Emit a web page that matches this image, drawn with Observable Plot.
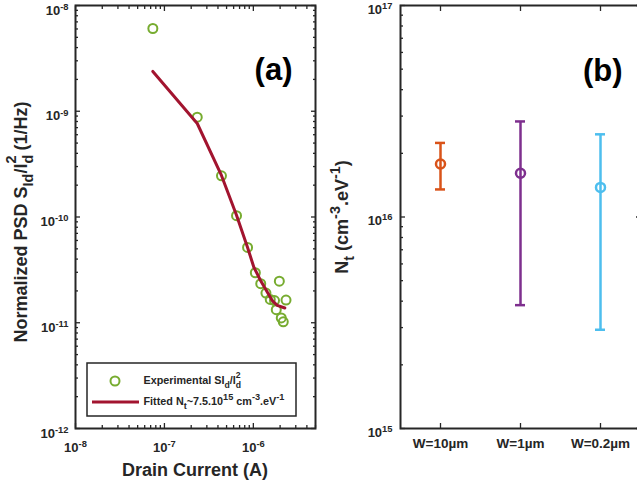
<!DOCTYPE html>
<html><head><meta charset="utf-8">
<script src="https://cdn.jsdelivr.net/npm/d3@7"></script>
<script src="https://cdn.jsdelivr.net/npm/@observablehq/plot@0.6"></script>
<style>
body{margin:0;background:#fff;}
#fig{position:relative;width:637px;height:484px;overflow:hidden;background:#fff;}
#fig svg{position:absolute;top:0;max-width:none !important;}
</style></head><body><div id="fig"></div>
<script>
// ---------- Panel (a) data ----------
const currentA = [7.41e-8, 2.34e-7, 4.38e-7, 6.47e-7, 8.61e-7, 1.053e-6, 1.211e-6, 1.386e-6, 1.549e-6, 1.73e-6, 1.96e-6, 2.33e-6, 1.81e-6, 2.06e-6, 2.17e-6];
const psdA = [6.06e-9, 8.78e-10, 2.45e-10, 1.03e-10, 5.15e-11, 2.97e-11, 2.34e-11, 1.91e-11, 1.66e-11, 1.62e-11, 2.47e-11, 1.64e-11, 1.33e-11, 1.11e-11, 1.02e-11];
const fitCurrent = [7.41e-8, 2.34e-7, 4.38e-7, 6.47e-7, 8.61e-7, 1.013e-6, 1.205e-6, 1.433e-6, 1.632e-6, 1.857e-6, 2.26e-6];
const fitPsd = [2.38e-9, 7.66e-10, 2.47e-10, 1.04e-10, 5.15e-11, 3.35e-11, 2.51e-11, 1.95e-11, 1.62e-11, 1.46e-11, 1.38e-11];
// ---------- Panel (b) data ----------
const widths = ["W=10µm", "W=1µm", "W=0.2µm"];
const ntMean = [1.78e16, 1.61e16, 1.38e16];
const ntHigh = [2.24e16, 2.83e16, 2.46e16];
const ntLow = [1.35e16, 3.83e15, 2.93e15];
const ntColors = ["#D95319", "#7E2F8E", "#4DBEEE"];
// ---------- Ticks ----------
const xMajorA = [1e-8, 1e-7, 1e-6];
const yMajorA = [1e-12, 1e-11, 1e-10, 1e-9, 1e-8];
const yMajorB = [1e15, 1e16, 1e17];
const mant = [2, 3, 4, 5, 6, 7, 8, 9];
const xMinorA = [1e-8, 1e-7, 1e-6].flatMap(d => mant.map(m => m * d)).filter(v => v < 5e-6);
const yMinorA = [1e-12, 1e-11, 1e-10, 1e-9].flatMap(d => mant.map(m => m * d));
const yMinorB = [1e15, 1e16].flatMap(d => mant.map(m => m * d));

const ink = "#262626";
const green = "#77AC30";
const red = "#A2142F";
const FONT = "'Liberation Sans', Arial, Helvetica, sans-serif";
const svgStyle = `font-family:${FONT};font-size:13px;font-weight:bold;color:${ink};background:transparent;overflow:visible;`;
const sup = d => "10^" + Math.round(Math.log10(d));
const blank = () => "";

const expData = currentA.map((c, i) => ({current: c, psd: psdA[i]}));
const fitData = fitCurrent.map((c, i) => ({current: c, psd: fitPsd[i]}));
const ntData = widths.map((w, i) => ({w, mean: ntMean[i], hi: ntHigh[i], lo: ntLow[i], color: ntColors[i]}));

function tickAxes(axis, anchor, ticks, size) {
  return axis({anchor, ticks, tickSize: -size, tickFormat: blank, strokeWidth: 1.3});
}

const plotA = Plot.plot({
  width: 320, height: 484,
  marginLeft: 75, marginRight: 5, marginTop: 5, marginBottom: 56,
  style: svgStyle,
  x: {type: "log", domain: [1e-8, 5e-6], label: null},
  y: {type: "log", domain: [1e-12, 1e-8], label: null},
  marks: [
    Plot.axisX({anchor: "bottom", ticks: xMajorA, tickSize: 0, tickPadding: 14, tickFormat: sup}),
    tickAxes(Plot.axisX, "bottom", xMajorA, 5),
    tickAxes(Plot.axisX, "bottom", xMinorA, 3),
    tickAxes(Plot.axisX, "top", xMajorA, 5),
    tickAxes(Plot.axisX, "top", xMinorA, 3),
    Plot.axisY({anchor: "left", ticks: yMajorA, tickSize: 0, tickPadding: 7, dy: 5, tickFormat: sup}),
    tickAxes(Plot.axisY, "left", yMajorA, 5),
    tickAxes(Plot.axisY, "left", yMinorA, 3),
    tickAxes(Plot.axisY, "right", yMajorA, 5),
    tickAxes(Plot.axisY, "right", yMinorA, 3),
    Plot.dot(expData, {x: "current", y: "psd", r: 4.5, stroke: green, strokeWidth: 2, fill: "none"}),
    Plot.line(fitData, {x: "current", y: "psd", stroke: red, strokeWidth: 3}),
    Plot.frame({stroke: ink, strokeWidth: 2}),
    Plot.text(["(a)"], {frameAnchor: "top-right", dx: -23, dy: 52.5, textAnchor: "end", fontSize: 31, fontWeight: "bold", fill: "black"})
  ]
});

const plotB = Plot.plot({
  width: 325, height: 484,
  marginLeft: 80, marginRight: 5, marginTop: 5, marginBottom: 56,
  style: svgStyle,
  x: {type: "point", domain: widths, padding: 0.5, label: null},
  y: {type: "log", domain: [1e15, 1e17], label: null},
  color: {type: "identity"},
  marks: [
    Plot.axisX({anchor: "bottom", tickSize: 0, tickPadding: 10, fontSize: 13.5}),
    tickAxes(Plot.axisX, "bottom", widths, 5),
    tickAxes(Plot.axisX, "top", widths, 5),
    Plot.axisY({anchor: "left", ticks: yMajorB, tickSize: 0, tickPadding: 8, dy: 4, tickFormat: sup}),
    tickAxes(Plot.axisY, "left", yMajorB, 5),
    tickAxes(Plot.axisY, "left", yMinorB, 3),
    tickAxes(Plot.axisY, "right", yMajorB, 5),
    tickAxes(Plot.axisY, "right", yMinorB, 3),
    Plot.ruleX(ntData, {x: "w", y1: "lo", y2: "hi", stroke: "color", strokeWidth: 2.5}),
    Plot.ruleY(ntData, {y: "hi", x1: "w", x2: "w", insetLeft: -5, insetRight: -5, stroke: "color", strokeWidth: 2.5}),
    Plot.ruleY(ntData, {y: "lo", x1: "w", x2: "w", insetLeft: -5, insetRight: -5, stroke: "color", strokeWidth: 2.5}),
    Plot.dot(ntData, {x: "w", y: "mean", r: 4.5, stroke: "color", strokeWidth: 2.5, fill: "none"}),
    Plot.frame({stroke: ink, strokeWidth: 2}),
    Plot.text(["(b)"], {frameAnchor: "top-right", dx: -18, dy: 53.5, textAnchor: "end", fontSize: 31, fontWeight: "bold", fill: "black"})
  ]
});

function supify(svg) {
  d3.select(svg).selectAll("text").each(function () {
    const m = /^10\^(-?\d+)$/.exec(this.textContent);
    if (!m) return;
    const el = d3.select(this);
    el.text("10");
    el.append("tspan").attr("dy", "-0.5em").attr("font-size", "0.72em").text(m[1]);
  });
}
supify(plotA);
supify(plotB);

// rich text helper: parts = [[text, kind]] kind: n (normal), sub, sup, supover (sup stacked over previous sub)
function rich(sel, parts, size, ratio = 0.72) {
  const small = size * ratio;
  let shift = 0;
  let lastSubW = 0;
  parts.forEach(([t, kind]) => {
    const ts = sel.append("tspan").text(t);
    let target = 0;
    if (kind === "sub") { target = size * 0.36; ts.attr("font-size", small); }
    else if (kind === "sup") { target = -size * 0.42; ts.attr("font-size", small); }
    else if (kind === "supover") { target = -size * 0.56; ts.attr("font-size", small).attr("dx", -lastSubW); }
    ts.attr("dy", target - shift);
    shift = target;
    if (kind === "sub") lastSubW = t.length * small * 0.61;
  });
}

const gA = d3.select(plotA).append("g").attr("fill", ink).style("font-family", FONT).style("font-weight", "bold");
rich(gA.append("text").attr("transform", "translate(26.5,222) rotate(-90)").attr("text-anchor", "middle").attr("font-size", 18),
  [["Normalized PSD S", "n"], ["Id", "sub"], ["/I", "n"], ["d", "sub"], ["2", "supover"], [" (1/Hz)", "n"]], 18, 0.8);
gA.append("text").attr("x", 195).attr("y", 476).attr("text-anchor", "middle").attr("font-size", 18).text("Drain Current (A)");

// legend
const leg = d3.select(plotA).append("g").style("font-family", FONT).style("font-weight", "bold");
leg.append("rect").attr("x", 87).attr("y", 363).attr("width", 209).attr("height", 53).attr("fill", "white").attr("stroke", ink).attr("stroke-width", 1.5);
leg.append("circle").attr("cx", 115).attr("cy", 381).attr("r", 4.5).attr("fill", "none").attr("stroke", green).attr("stroke-width", 2);
leg.append("line").attr("x1", 92).attr("x2", 139).attr("y1", 402).attr("y2", 402).attr("stroke", red).attr("stroke-width", 3);
rich(leg.append("text").attr("x", 143.5).attr("y", 384).attr("text-anchor", "start").attr("font-size", 10.8).attr("fill", ink),
  [["Experimental SI", "n"], ["d", "sub"], ["/I", "n"], ["d", "sub"], ["2", "supover"]], 10.8, 0.8);
rich(leg.append("text").attr("x", 143.5).attr("y", 405).attr("text-anchor", "start").attr("font-size", 10.8).attr("fill", ink),
  [["Fitted N", "n"], ["t", "sub"], ["~7.5.10", "n"], ["15", "sup"], [" cm", "n"], ["-3", "sup"], [".eV", "n"], ["-1", "sup"]], 10.8, 0.85);

const gB = d3.select(plotB).append("g").attr("fill", ink).style("font-family", FONT).style("font-weight", "bold");
rich(gB.append("text").attr("transform", "translate(28,217) rotate(-90)").attr("text-anchor", "middle").attr("font-size", 18),
  [["N", "n"], ["t", "sub"], [" (cm", "n"], ["-3", "sup"], [".eV", "n"], ["-1", "sup"], [")", "n"]], 18, 0.8);

const fig = document.getElementById("fig");
plotA.style.left = "0px";
plotB.style.left = "320px";
fig.append(plotA, plotB);
</script></body></html>
